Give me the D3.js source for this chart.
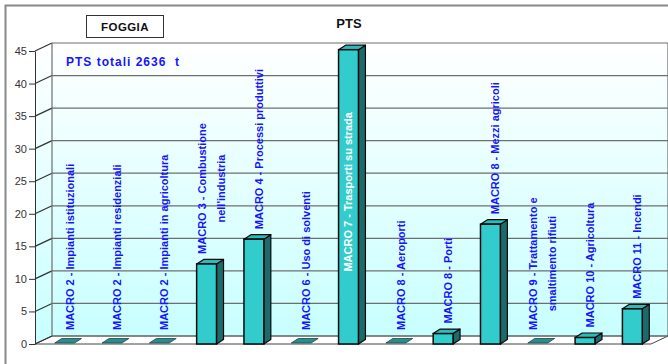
<!DOCTYPE html>
<html>
<head>
<meta charset="utf-8">
<script src="https://cdn.jsdelivr.net/npm/d3@7/dist/d3.min.js"></script>
<style>
  html, body { margin: 0; padding: 0; background: #ffffff; }
  svg { display: block; font-family: "Liberation Sans", Arial, sans-serif; }
</style>
</head>
<body>
<svg id="chart" width="668" height="364"></svg>
<script>
// Emission shares by macrosector (percent of total PTS), Foggia province
const categories = [
  "MACRO 2 - Impianti istituzionali",
  "MACRO 2 - Impianti residenziali",
  "MACRO 2 - Impianti in agricoltura",
  "MACRO 3 - Combustione\nnell'industria",
  "MACRO 4 - Processi produttivi",
  "MACRO 6 - Uso di solventi",
  "MACRO 7 - Trasporti su strada",
  "MACRO 8 - Aeroporti",
  "MACRO 8 - Porti",
  "MACRO 8 - Mezzi agricoli",
  "MACRO 9 - Trattamento e\nsmaltimento rifiuti",
  "MACRO 10 - Agricoltura",
  "MACRO 11 - Incendi"
];
const values = [0, 0, 0, 12.3, 16.1, 0, 45.2, 0, 1.6, 18.4, 0, 1.0, 5.4];
const yTicks = [0, 5, 10, 15, 20, 25, 30, 35, 40, 45];
const titleText = "PTS";
const areaText = "FOGGIA";
const totalText = "PTS totali 2636  t";

const svg = d3.select("#chart");

// plot geometry
const frontLeft = 35, frontRight = 651;
const wallDX = 17, wallDY = -8;     // depth of the 3D box
const barDX = 7, barDY = -4.5;      // depth of each bar

const x = d3.scaleBand()
  .domain(categories)
  .range([41, 656])
  .paddingInner(0.58)
  .paddingOuter(0.29);

const y = d3.scaleLinear().domain([0, 45]).range([344, 51]);

// outer frame
svg.append("rect")
  .attr("x", 5.5).attr("y", 5.5)
  .attr("width", 700).attr("height", 400)
  .attr("fill", "none").attr("stroke", "#8a8a8a").attr("stroke-width", 2);

// wall gradient
const defs = svg.append("defs");
const grad = defs.append("linearGradient")
  .attr("id", "wallGrad").attr("x1", 0).attr("y1", 0).attr("x2", 0).attr("y2", 1);
grad.append("stop").attr("offset", "0%").attr("stop-color", "#ffffff");
grad.append("stop").attr("offset", "100%").attr("stop-color", "#c8ffff");

const y0 = y(0), yTop = y(45);

// back wall
svg.append("rect")
  .attr("x", frontLeft + wallDX).attr("y", yTop + wallDY)
  .attr("width", frontRight - frontLeft)
  .attr("height", y0 - yTop)
  .attr("fill", "url(#wallGrad)");

// left side wall
svg.append("polygon")
  .attr("points", [
    [frontLeft, yTop], [frontLeft + wallDX, yTop + wallDY],
    [frontLeft + wallDX, y0 + wallDY], [frontLeft, y0]
  ].map(p => p.join(",")).join(" "))
  .attr("fill", "url(#wallGrad)");

// floor
svg.append("polygon")
  .attr("points", [
    [frontLeft, y0], [frontLeft + wallDX, y0 + wallDY],
    [frontRight + wallDX, y0 + wallDY], [frontRight, y0]
  ].map(p => p.join(",")).join(" "))
  .attr("fill", "#ffffff").attr("stroke", "#444").attr("stroke-width", 1);

// gridlines on back and side walls
const grid = svg.append("g").attr("stroke", "#6e6e6e").attr("stroke-width", 1.2).attr("fill", "none");
yTicks.forEach(t => {
  const yy = y(t);
  grid.append("line")
    .attr("x1", frontLeft + wallDX).attr("x2", frontRight + wallDX)
    .attr("y1", yy + wallDY).attr("y2", yy + wallDY);
  grid.append("line")
    .attr("x1", frontLeft).attr("x2", frontLeft + wallDX)
    .attr("y1", yy).attr("y2", yy + wallDY)
    .attr("stroke", "#333");
});
// wall edges
grid.append("line")
  .attr("x1", frontLeft + wallDX).attr("x2", frontLeft + wallDX)
  .attr("y1", yTop + wallDY).attr("y2", y0 + wallDY);
grid.append("line")
  .attr("x1", frontRight + wallDX).attr("x2", frontRight + wallDX)
  .attr("y1", yTop + wallDY).attr("y2", y0 + wallDY);

// y axis
const axis = svg.append("g").attr("transform", `translate(${frontLeft},0)`)
  .call(d3.axisLeft(y).tickValues(yTicks).tickSize(6).tickPadding(2).tickSizeOuter(0));
axis.select(".domain").attr("stroke", "#333");
axis.selectAll(".tick line").attr("stroke", "#333");
axis.selectAll(".tick text")
  .attr("font-size", 11).attr("fill", "#333")
  .attr("font-family", "Liberation Sans, Arial, sans-serif");

// bars
const bars = svg.append("g");
categories.forEach((c, i) => {
  const v = values[i];
  const bx = x(c), bw = x.bandwidth();
  const top = y(v);
  const g = bars.append("g");
  if (v > 0) {
    // side face
    g.append("polygon")
      .attr("points", [[bx + bw, top], [bx + bw + barDX, top + barDY],
                       [bx + bw + barDX, y0 + barDY], [bx + bw, y0]].map(p => p.join(",")).join(" "))
      .attr("fill", "#1d6a6a").attr("stroke", "#0a0a0a").attr("stroke-width", 1.2)
      .attr("stroke-linejoin", "round");
    // top face
    g.append("polygon")
      .attr("points", [[bx, top], [bx + barDX, top + barDY],
                       [bx + bw + barDX, top + barDY], [bx + bw, top]].map(p => p.join(",")).join(" "))
      .attr("fill", "#2fb9b7").attr("stroke", "#0a0a0a").attr("stroke-width", 1.2)
      .attr("stroke-linejoin", "round");
    // front face
    g.append("rect")
      .attr("x", bx).attr("y", top).attr("width", bw).attr("height", y0 - top)
      .attr("fill", "#33cccc").attr("stroke", "#0a0a0a").attr("stroke-width", 1.5);
  } else {
    // zero value: only the flat top face on the floor
    g.append("polygon")
      .attr("points", [[bx, y0 - 1], [bx + barDX, y0 - 1 + barDY],
                       [bx + bw + barDX, y0 - 1 + barDY], [bx + bw, y0 - 1]].map(p => p.join(",")).join(" "))
      .attr("fill", "#2a8d8b").attr("stroke", "#1a4a4a").attr("stroke-width", 0.8);
  }
});

// data labels (category names, rotated)
const labels = svg.append("g")
  .attr("font-size", 11).attr("font-weight", "bold");
categories.forEach((c, i) => {
  const v = values[i];
  const lines = c.split("\n");
  const cx = x(c) + x.bandwidth() / 2;
  const top = v > 0 ? y(v) : y0 - 4;
  const t = labels.append("text").attr("text-anchor", "middle");
  lines.forEach(ln => t.append("tspan").text(ln));
  const lens = t.selectAll("tspan").nodes().map(n => n.getComputedTextLength());
  const len = d3.max(lens);
  let mid, color, base;
  if (top - 10 - len < 40) {
    // label placed inside the bar
    mid = (top + y0) / 2 - 5;
    color = "#ffffff";
    base = cx + 3;
  } else {
    mid = top - 10 - len / 2;
    color = "#1414ff";
    base = cx + 9;
  }
  t.attr("fill", color)
   .attr("transform", `translate(${base},${mid}) rotate(-90)`);
  const n = lines.length;
  t.selectAll("tspan")
    .attr("x", 0)
    .attr("y", (d, k) => (k - (n - 1) / 2) * 18.5);
});

// header: area box, title, total
svg.append("rect")
  .attr("x", 86.5).attr("y", 15.5).attr("width", 77).attr("height", 22)
  .attr("fill", "#ffffff").attr("stroke", "#333").attr("stroke-width", 1);
svg.append("text")
  .attr("x", 125).attr("y", 31)
  .attr("text-anchor", "middle").attr("font-size", 11.5).attr("font-weight", "bold")
  .attr("letter-spacing", 0.4)
  .attr("fill", "#111").text(areaText);
svg.append("text")
  .attr("x", 349).attr("y", 28)
  .attr("text-anchor", "middle").attr("font-size", 13).attr("font-weight", "bold")
  .attr("fill", "#111").text(titleText);
svg.append("text")
  .attr("x", 66).attr("y", 66)
  .attr("font-size", 12).attr("font-weight", "bold").attr("letter-spacing", 1)
  .attr("fill", "#1414ff").attr("xml:space", "preserve").style("white-space", "pre")
  .text(totalText);
</script>
</body>
</html>
